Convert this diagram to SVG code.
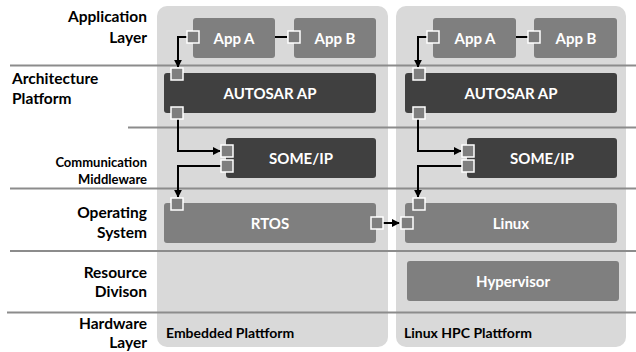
<svg xmlns="http://www.w3.org/2000/svg" width="636" height="352" viewBox="0 0 636 352">
<style>
.panel{fill:#d9d9d9}
.sep{stroke:#8c8c8c;stroke-width:2}
.mid{fill:#7f7f7f}
.dark{fill:#404040}
.port{fill:#7f7f7f;stroke:#fff;stroke-width:1.5}
.nl{font-family:Lato,"Liberation Sans",sans-serif;font-weight:bold;font-size:15px;fill:#fff;text-anchor:middle}
.ll{font-family:Lato,"Liberation Sans",sans-serif;font-weight:bold;font-size:15.5px;fill:#000}
.r{text-anchor:end}
.sm{font-size:13px}
.pl{font-size:14px}
.cn{fill:none;stroke:#000;stroke-width:2}
</style>
<defs>
<marker id="ah" viewBox="0 0 10 10" refX="9" refY="5" markerWidth="4" markerHeight="4" orient="auto" markerUnits="strokeWidth">
<path d="M0,0 L10,5 L0,10 z" fill="#000"/>
</marker>
</defs>
<rect class="panel" x="157" y="6" width="231" height="341" rx="10"/>
<rect class="panel" x="396" y="6" width="230" height="341" rx="10"/>
<g id="separators">
<line class="sep" x1="10" y1="65.5" x2="636" y2="65.5"/>
<line class="sep" x1="128" y1="127.5" x2="636" y2="127.5"/>
<line class="sep" x1="10" y1="188.5" x2="636" y2="188.5"/>
<line class="sep" x1="10" y1="251" x2="636" y2="251"/>
<line class="sep" x1="7" y1="312.5" x2="636" y2="312.5"/>
</g>
<g id="layer-labels">
<text class="ll r" x="147" y="22">Application</text>
<text class="ll r" x="147" y="43">Layer</text>
<text class="ll" x="12" y="84">Architecture</text>
<text class="ll" x="12" y="104">Platform</text>
<text class="ll r sm" x="147" y="167">Communication</text>
<text class="ll r sm" x="147" y="184">Middleware</text>
<text class="ll r" x="147" y="218">Operating</text>
<text class="ll r" x="147" y="238">System</text>
<text class="ll r" x="147" y="278">Resource</text>
<text class="ll r" x="147" y="297">Divison</text>
<text class="ll r" x="147" y="329">Hardware</text>
<text class="ll r" x="147" y="348">Layer</text>
<text class="ll pl" x="166" y="338">Embedded Plattform</text>
<text class="ll pl" x="404" y="338">Linux HPC Plattform</text>
</g>
<g id="connectors">
<polyline class="cn" points="187,37 178,37 178,67" marker-end="url(#ah)"/>
<line class="cn" x1="275" y1="37" x2="287" y2="37"/>
<polyline class="cn" points="178,119 178,151 220,151" marker-end="url(#ah)"/>
<polyline class="cn" points="221,166 178,166 178,197" marker-end="url(#ah)"/>
<line class="cn" x1="383" y1="223" x2="399" y2="223" marker-end="url(#ah)"/>
<polyline class="cn" points="427,37 418,37 418,67" marker-end="url(#ah)"/>
<line class="cn" x1="516" y1="37" x2="528" y2="37"/>
<polyline class="cn" points="418,119 418,151 461,151" marker-end="url(#ah)"/>
<polyline class="cn" points="462,166 418,166 418,197" marker-end="url(#ah)"/>
</g>
<g id="appA-left"><rect class="mid" x="193" y="18" width="82" height="40" rx="3"/><text class="nl" x="234" y="44">App A</text><rect class="port" x="187" y="31" width="12" height="12"/></g>
<g id="appB-left"><rect class="mid" x="294" y="18" width="82" height="40" rx="3"/><text class="nl" x="335" y="44">App B</text><rect class="port" x="288" y="31" width="12" height="12"/></g>
<g id="appA-right"><rect class="mid" x="433" y="18" width="83" height="40" rx="3"/><text class="nl" x="475" y="44">App A</text><rect class="port" x="427" y="31" width="12" height="12"/></g>
<g id="appB-right"><rect class="mid" x="534" y="18" width="83" height="40" rx="3"/><text class="nl" x="576" y="44">App B</text><rect class="port" x="528" y="31" width="12" height="12"/></g>
<g id="autosar-left"><rect class="dark" x="164" y="73" width="212" height="40" rx="3"/><text class="nl" x="270" y="99">AUTOSAR AP</text><rect class="port" x="171" y="68" width="12" height="12"/><rect class="port" x="171" y="107" width="12" height="12"/></g>
<g id="autosar-right"><rect class="dark" x="405" y="73" width="212" height="40" rx="3"/><text class="nl" x="511" y="99">AUTOSAR AP</text><rect class="port" x="413" y="68" width="12" height="12"/><rect class="port" x="413" y="107" width="12" height="12"/></g>
<g id="someip-left"><rect class="dark" x="226" y="138" width="150" height="40" rx="3"/><text class="nl" x="301" y="164">SOME/IP</text><rect class="port" x="221" y="145" width="12" height="12"/><rect class="port" x="221" y="160" width="12" height="12"/></g>
<g id="someip-right"><rect class="dark" x="467" y="138" width="150" height="40" rx="3"/><text class="nl" x="542" y="164">SOME/IP</text><rect class="port" x="462" y="145" width="12" height="12"/><rect class="port" x="462" y="160" width="12" height="12"/></g>
<g id="rtos"><rect class="mid" x="164" y="203" width="212" height="40" rx="3"/><text class="nl" x="270" y="229">RTOS</text><rect class="port" x="171" y="198" width="12" height="12"/><rect class="port" x="371" y="217" width="12" height="12"/></g>
<g id="linux"><rect class="mid" x="405" y="203" width="212" height="40" rx="3"/><text class="nl" x="511" y="229">Linux</text><rect class="port" x="413" y="198" width="12" height="12"/><rect class="port" x="401" y="217" width="12" height="12"/></g>
<g id="hypervisor"><rect class="mid" x="407" y="261" width="212" height="40" rx="3"/><text class="nl" x="513" y="287">Hypervisor</text></g>
</svg>
